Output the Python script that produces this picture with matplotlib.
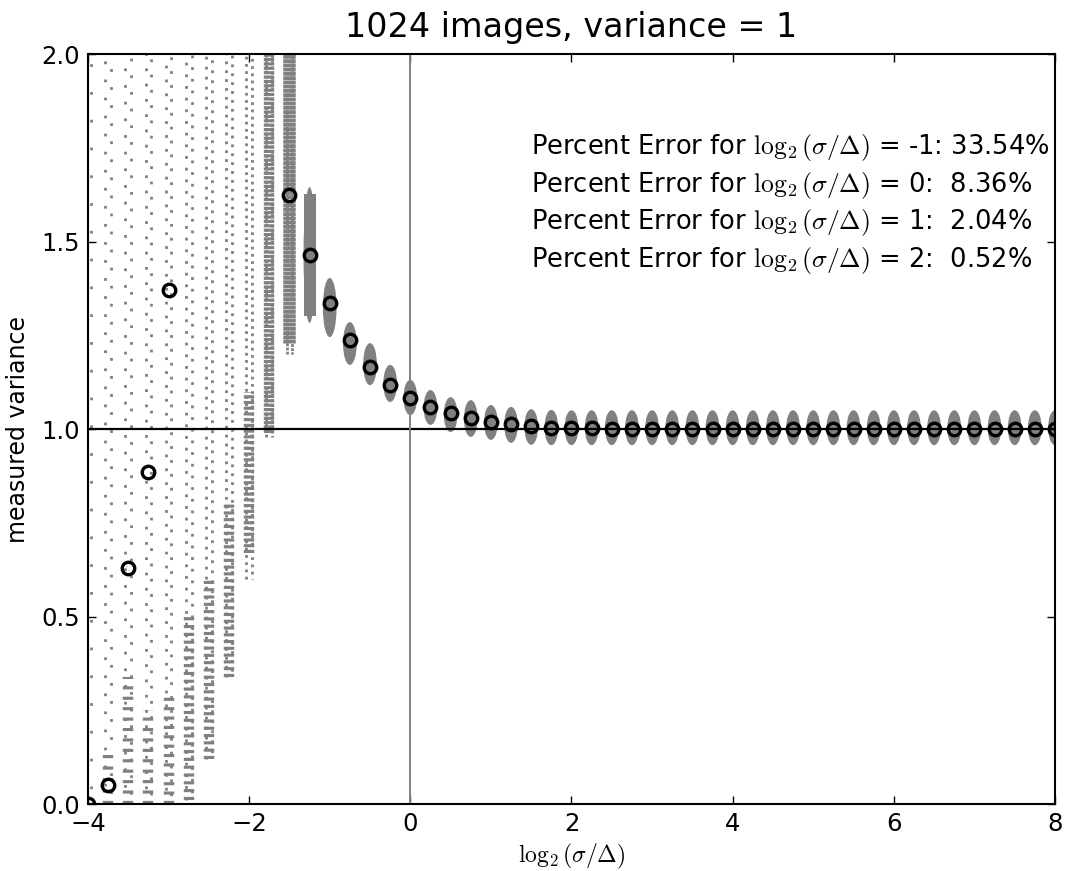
import numpy as np
import matplotlib
matplotlib.use("Agg")
import matplotlib.pyplot as plt
from matplotlib.patches import Ellipse

plt.rcParams["mathtext.fontset"] = "cm"
plt.rcParams["font.family"] = ["DejaVu Sans"]

# ---------------- data ----------------
log2_ratio = [-4.0, -3.75, -3.5, -3.25, -3.0, -2.75, -2.5, -2.25, -2.0, -1.75,
              -1.5, -1.25, -1.0, -0.75, -0.5, -0.25, 0.0, 0.25, 0.5, 0.75,
              1.0, 1.25, 1.5, 1.75, 2.0, 2.25, 2.5, 2.75, 3.0, 3.25,
              3.5, 3.75, 4.0, 4.25, 4.5, 4.75, 5.0, 5.25, 5.5, 5.75,
              6.0, 6.25, 6.5, 6.75, 7.0, 7.25, 7.5, 7.75, 8.0]

nan = float("nan")
mean_variance = [0.0, 0.05, 0.63, 0.885, 1.37, nan, nan, nan, nan, nan,
                 1.624, 1.464, 1.336, 1.237, 1.165, 1.117, 1.083, 1.059, 1.043, 1.029,
                 1.019, 1.013, 1.008, 1.004, 1.002, 1.002, 1.001, 1.001, 1.001, 1.0,
                 1.0, 1.0, 1.0, 1.0, 1.0, 1.0, 1.0, 1.0, 1.0, 1.0,
                 1.0, 1.0, 1.0, 1.0, 1.0, 1.0, 1.0, 1.0, 1.0]

# full extent of each cloud of 1024 measured variances
cloud_lo = [0.0, 0.0, 0.0, 0.0, 0.0, 0.01, 0.12, 0.34, 0.60, 0.98,
            1.20, 1.283, 1.245, 1.171, 1.117, 1.072, 1.037, 1.011, 0.992, 0.979,
            0.971, 0.963, 0.958, 0.957, 0.957, 0.957, 0.957, 0.957, 0.957, 0.957,
            0.957, 0.957, 0.957, 0.957, 0.957, 0.957, 0.957, 0.957, 0.957, 0.957,
            0.957, 0.957, 0.957, 0.957, 0.957, 0.957, 0.957, 0.957, 0.957]
cloud_hi = [2.1, 2.1, 2.1, 2.1, 2.1, 2.1, 2.1, 2.1, 2.1, 2.1,
            2.1, 1.645, 1.403, 1.285, 1.229, 1.171, 1.131, 1.104, 1.085, 1.077,
            1.064, 1.059, 1.053, 1.051, 1.050, 1.050, 1.050, 1.050, 1.050, 1.050,
            1.050, 1.050, 1.050, 1.050, 1.050, 1.050, 1.050, 1.050, 1.050, 1.050,
            1.050, 1.050, 1.050, 1.050, 1.050, 1.050, 1.050, 1.050, 1.050]
# densest part of the sparse (left) clouds
core_lo = [0.0, 0.0, 0.0, 0.0, 0.0, 0.01, 0.12, 0.34, 0.67, 0.99, 1.23]
core_hi = [0.0, 0.14, 0.34, 0.25, 0.30, 0.50, 0.60, 0.80, 1.10, 2.1, 2.1]

error_levels = [-1, 0, 1, 2]
error_percent = [33.54, 8.36, 2.04, 0.52]

# ---------------- styles ----------------
GRAY = "#808080"
sparse_gap = [9, 5.5, 5, 4.5, 4, 3.2, 2.6, 2.2, 1.6, 0.9, 0.5]   # dot spacing per left column
core_gap = [0, 0.8, 0.7, 0.7, 0.6, 0.45, 0.4, 0.35, 0.25, 0.12, 0.04]
core_width = [7.5, 7.5, 7.5, 7.5, 7.5, 7.5, 7.5, 7.5, 7.5, 7.5, 9.0]

fig = plt.figure(figsize=(10.65, 8.71), dpi=100)
ax = fig.add_axes([0.0826, 0.0769, 0.9080, 0.8611])

n_band = len(core_lo)
for i, x in enumerate(log2_ratio):
    lo, hi = cloud_lo[i], cloud_hi[i]
    if i < n_band:
        # sparse scatter of quantised values: dotted columns
        g = sparse_gap[i]
        for dx, off in ((-0.035, 0.0), (0.035, g * 0.5)):
            ax.vlines(x + dx, lo, hi, colors=GRAY, linewidth=2.0,
                      linestyles=[(off, (1, g))], zorder=1)
        if core_hi[i] > core_lo[i]:
            cg = core_gap[i]
            ls = "solid" if cg == 0 else (0, (0.3, cg))
            ax.vlines(x, core_lo[i], core_hi[i], colors=GRAY,
                      linewidth=core_width[i], linestyles=[ls], zorder=1)
    else:
        h = hi - lo
        if h > 0.2:
            # tall cloud: rounded-rectangle look
            ax.add_patch(Ellipse((x, 0.5 * (lo + hi)), 0.15, h,
                                 facecolor=GRAY, edgecolor="none", zorder=1))
            ax.bar(x, 0.9 * h, bottom=lo + 0.05 * h, width=0.15, color=GRAY,
                   edgecolor="none", zorder=1)
        else:
            ax.add_patch(Ellipse((x, 0.5 * (lo + hi)), 0.17, h,
                                 facecolor=GRAY, edgecolor="none", zorder=1))

ax.axhline(1.0, color="black", linewidth=1.6, zorder=2)
ax.axvline(0.0, color=GRAY, linewidth=1.4, zorder=2)

ax.plot(log2_ratio, mean_variance, linestyle="none", marker="o", markersize=9,
        markerfacecolor="none", markeredgecolor="black", markeredgewidth=2.4,
        zorder=3)

for k, (lvl, pct) in enumerate(zip(error_levels, error_percent)):
    ax.text(1.5, 1.75 - 0.1 * k,
            r"Percent Error for $\log_2(\sigma/\Delta)$" + f" = {lvl}: {pct:5.2f}%",
            fontsize=18.5, va="center", ha="left", zorder=4)

ax.set_xlim(-4, 8)
ax.set_ylim(0, 2)
ax.set_xticks([-4, -2, 0, 2, 4, 6, 8])
ax.set_yticks([0.0, 0.5, 1.0, 1.5, 2.0])
ax.set_yticklabels(["0.0", "0.5", "1.0", "1.5", "2.0"])
ax.tick_params(direction="in", top=True, right=True, length=6, width=1.0,
               labelsize=17.5, pad=6)
for sp in ax.spines.values():
    sp.set_linewidth(1.5)

ax.set_title("1024 images, variance = 1", fontsize=24, pad=12)
ax.set_xlabel(r"$\log_2(\sigma/\Delta)$", fontsize=17, labelpad=4)
ax.set_ylabel("measured variance", fontsize=17, labelpad=8)

fig.savefig("out.png", dpi=100)
